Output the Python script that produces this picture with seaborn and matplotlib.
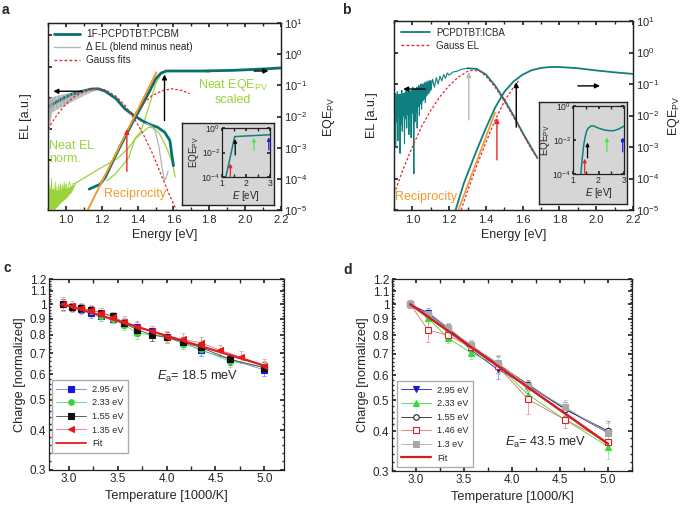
import numpy as np
import matplotlib
matplotlib.use("Agg")
import matplotlib.pyplot as plt
import seaborn as sns
from matplotlib.lines import Line2D
from matplotlib.ticker import (NullFormatter, NullLocator, LogLocator,
                               MultipleLocator, FixedLocator, FixedFormatter)

# ---------------- panel a (log10 values) ----------------
a_el_e = [0.90, 0.93, 0.98, 1.03, 1.09, 1.14, 1.18, 1.22, 1.28, 1.33, 1.38,
          1.43, 1.47, 1.51, 1.55, 1.58, 1.59, 1.60]
a_el_log = [-1.70, -1.59, -1.43, -1.29, -1.19, -1.12, -1.11, -1.19, -1.43, -1.76,
            -1.97, -2.15, -2.26, -2.34, -2.50, -2.77, -3.20, -3.58]
a_eqe_e = [1.13, 1.16, 1.19, 1.22, 1.25, 1.28, 1.33, 1.38, 1.43, 1.47, 1.50,
           1.53, 1.56, 1.65, 1.75, 1.93, 2.12, 2.20]
a_eqe_log = [-4.33, -4.25, -4.18, -3.95, -3.58, -3.22, -2.65, -2.10, -1.58,
             -1.15, -0.80, -0.61, -0.54, -0.54, -0.54, -0.52, -0.47, -0.44]
a_del_e = [0.90, 0.92, 0.95, 1.00, 1.05, 1.10, 1.15, 1.18]
a_del_hi = [-1.45, -1.38, -1.33, -1.27, -1.20, -1.15, -1.12, -1.11]
a_del_lo = [-2.50, -1.85, -1.75, -1.60, -1.45, -1.30, -1.17, -1.11]
a_del_zz_e = [0.900, 0.905, 0.910, 0.915, 0.920, 0.925, 0.930, 0.940, 0.950,
              0.960, 0.970, 0.980, 0.990, 1.000, 1.010, 1.020, 1.030, 1.040,
              1.050, 1.060, 1.070, 1.080, 1.090, 1.100, 1.110, 1.120, 1.130,
              1.140, 1.150, 1.170]
a_del_zz_log = [-2.50, -1.45, -2.10, -1.40, -1.85, -1.38, -1.80, -1.36, -1.75,
                -1.33, -1.68, -1.30, -1.62, -1.27, -1.55, -1.25, -1.48, -1.22,
                -1.42, -1.20, -1.36, -1.18, -1.30, -1.16, -1.24, -1.14, -1.19,
                -1.13, -1.15, -1.11]
a_del_tail_e = [1.45, 1.48, 1.50, 1.52, 1.535, 1.55, 1.56, 1.57]
a_del_tail_log = [-2.22, -2.32, -2.50, -3.00, -3.60, -4.05, -3.95, -3.75]
a_gauss1_e = [0.90, 0.95, 1.00, 1.05, 1.10, 1.15, 1.18, 1.22, 1.28, 1.33, 1.38,
              1.43, 1.48, 1.53, 1.58, 1.62]
a_gauss1_log = [-2.40, -1.95, -1.60, -1.35, -1.20, -1.12, -1.11, -1.15, -1.35,
                -1.65, -2.05, -2.55, -3.15, -3.85, -4.55, -5.05]
a_gauss2_e = [1.37, 1.43, 1.48, 1.54, 1.59, 1.65, 1.69]
a_gauss2_log = [-2.02, -1.59, -1.33, -1.17, -1.11, -1.17, -1.27]
a_recip_e = [1.12, 1.505]
a_recip_log = [-5.02, -0.58]
a_neatel_e = [1.05, 1.13, 1.21, 1.29, 1.35, 1.39, 1.43, 1.46, 1.49, 1.52, 1.55,
              1.59, 1.61]
a_neatel_log = [-4.15, -3.87, -3.60, -3.34, -3.00, -2.70, -2.50, -2.35, -2.36,
                -2.54, -2.85, -3.40, -3.94]
a_neatel_noise_e = [0.90, 0.93, 0.96, 1.00, 1.03, 1.05]
a_neatel_noise_hi = [-4.30, -4.35, -4.40, -4.30, -4.25, -4.15]
a_neatel_noise_lo = [-5.00, -5.00, -4.80, -4.60, -4.40, -4.15]
a_neatel_zz_e = [0.900, 0.905, 0.910, 0.915, 0.920, 0.925, 0.930, 0.935, 0.940,
                 0.945, 0.950, 0.955, 0.960, 0.965, 0.970, 0.975, 0.980, 0.985,
                 0.990, 0.995, 1.000, 1.010, 1.020, 1.030, 1.040, 1.050]
a_neatel_zz_log = [-4.10, -5.00, -4.20, -4.90, -4.00, -5.00, -4.30, -4.80,
                   -4.10, -4.70, -4.25, -4.90, -4.20, -4.60, -4.15, -4.70,
                   -4.20, -4.50, -4.10, -4.45, -4.15, -4.40, -4.10, -4.30,
                   -4.15, -4.15]
a_neateqe_e = [1.229, 1.276, 1.323, 1.351, 1.369, 1.388, 1.416, 1.444, 1.473,
               1.50, 1.529, 1.557, 1.651, 1.744, 1.80]
a_neateqe_log = [-4.06, -3.84, -3.52, -3.31, -2.99, -2.69, -2.50, -2.02, -1.49,
                 -0.95, -0.65, -0.55, -0.54, -0.55, -0.58]
a_inset_e = [1.16, 1.53, 3.0]
a_inset_log = [-4.0, -0.7, -0.55]

# ---------------- panel b ----------------
b_noise_e = [0.900, 0.903, 0.906, 0.909, 0.912, 0.915, 0.918, 0.921, 0.924,
             0.927, 0.930, 0.933, 0.936, 0.939, 0.942, 0.945, 0.948, 0.951,
             0.954, 0.957, 0.960, 0.963, 0.966, 0.969, 0.972, 0.975, 0.978,
             0.981, 0.984, 0.987, 0.990, 0.993, 0.996, 0.999, 1.002, 1.005,
             1.008, 1.011, 1.014, 1.017, 1.020, 1.023, 1.026, 1.029, 1.032,
             1.035, 1.038, 1.041, 1.044, 1.047, 1.050, 1.055, 1.060, 1.065,
             1.070, 1.075, 1.080, 1.085, 1.090, 1.095, 1.100, 1.110, 1.120,
             1.130, 1.140, 1.150, 1.160, 1.170, 1.180, 1.190, 1.200, 1.220,
             1.240, 1.260, 1.280, 1.300]
b_noise_log = [-1.50, -2.60, -1.30, -3.00, -1.60, -2.20, -1.25, -2.80, -1.40,
               -2.00, -1.35, -3.20, -1.50, -2.30, -1.20, -2.50, -1.60, -1.90,
               -1.30, -2.90, -1.40, -2.10, -1.20, -2.40, -1.50, -1.80, -1.15,
               -2.60, -1.30, -2.00, -1.25, -2.70, -1.40, -1.90, -1.10, -2.30,
               -3.85, -1.30, -2.20, -1.15, -1.90, -1.10, -2.40, -1.20, -1.70,
               -1.05, -2.00, -1.10, -1.60, -1.00, -1.80, -1.00, -1.50, -0.95,
               -1.60, -0.92, -1.35, -0.90, -1.30, -0.88, -1.20, -0.85, -1.10,
               -0.80, -1.00, -0.75, -0.90, -0.70, -0.82, -0.65, -0.72, -0.62,
               -0.60, -0.55, -0.52, -0.50]
b_band_e = [0.90, 0.95, 1.00, 1.05, 1.10]
b_band_hi = [-1.35, -1.28, -1.18, -1.02, -0.88]
b_band_lo = [-2.10, -2.00, -1.90, -1.55, -1.15]
b_el_e = [1.30, 1.35, 1.40, 1.45, 1.50, 1.55, 1.60, 1.65, 1.68]
b_el_log = [-0.50, -0.52, -0.70, -1.05, -1.50, -2.00, -2.55, -3.05, -3.35]
b_eqe_e = [1.235, 1.28, 1.35, 1.40, 1.45, 1.50, 1.55, 1.60, 1.65, 1.70, 1.75,
           1.80, 1.90, 2.00, 2.10, 2.20]
b_eqe_log = [-5.00, -4.15, -3.10, -2.40, -1.75, -1.25, -0.92, -0.70, -0.56,
             -0.49, -0.46, -0.46, -0.50, -0.57, -0.63, -0.68]
b_gauss_e = [0.88, 0.90, 0.95, 1.00, 1.05, 1.10, 1.15, 1.20, 1.25, 1.30, 1.33,
             1.37, 1.40, 1.45, 1.50, 1.55, 1.60, 1.65, 1.68]
b_gauss_log = [-4.75, -4.50, -3.70, -3.00, -2.35, -1.84, -1.40, -1.05, -0.78,
               -0.60, -0.56, -0.60, -0.75, -1.10, -1.55, -2.05, -2.58, -3.10, -3.35]
b_gauss2_e = [1.265, 1.30, 1.35, 1.40, 1.45, 1.50, 1.55, 1.585]
b_gauss2_log = [-5.00, -4.40, -3.60, -2.85, -2.15, -1.55, -1.10, -0.85]
b_recip_e = [1.25, 1.45]
b_recip_log = [-5.0, -1.9]
b_inset_e = [1.31, 1.36, 1.42, 1.48, 1.54, 1.60, 1.70, 1.80, 2.00, 2.20, 2.40,
             2.60, 2.80, 3.00]
b_inset_log = [-4.0, -3.1, -2.3, -1.8, -1.45, -1.3, -1.18, -1.17, -1.3, -1.4,
               -1.45, -1.45, -1.35, -1.18]

# arrows: (energy, log10 start, log10 end, colour)
a_arrows = [(1.55, -2.13, -0.65, 'black'), (1.34, -3.76, -2.40, '#e8262b')]
b_arrows = [(1.307, -2.14, -0.62, '#b8b8b8'), (1.46, -3.41, -2.08, '#e8262b'),
            (1.565, -2.37, -0.94, 'black')]
a_inset_arrows = [(1.35, -4.0, -2.9, '#e8262b'), (1.55, -2.2, -0.9, 'black'),
                  (2.33, -1.8, -0.8, '#4de24d'), (2.95, -1.8, -0.75, '#2020e0')]
b_inset_arrows = [(1.46, -4.0, -3.1, '#e8262b'), (1.57, -3.05, -2.15, 'black'),
                  (2.33, -2.7, -1.85, '#4de24d'), (2.95, -2.7, -1.85, '#2020e0')]

# ---------------- panel c ----------------
temp_c = [2.94, 3.03, 3.125, 3.23, 3.33, 3.45, 3.57, 3.70, 3.85, 4.0, 4.17, 4.35,
          4.65, 5.0]
c_295 = [1.0, 0.98, 0.965, 0.94, 0.92, 0.90, 0.875, 0.845, 0.82, 0.79, 0.76,
         0.715, 0.67, 0.62]
c_233 = [1.0, 0.98, 0.97, 0.95, 0.92, 0.90, 0.86, 0.81, 0.80, 0.79, 0.75, 0.72,
         0.66, 0.635]
c_155 = [1.0, 0.98, 0.97, 0.955, 0.94, 0.915, 0.87, 0.83, 0.80, 0.785, 0.76,
         0.73, 0.67, 0.63]
c_err = [0.04, 0.03, 0.03, 0.035, 0.035, 0.03, 0.03, 0.035, 0.035, 0.03, 0.03,
         0.03, 0.025, 0.025]
temp_c_red = [2.94, 3.03, 3.125, 3.23, 3.33, 3.45, 3.57, 3.70, 3.85, 4.0, 4.17,
              4.35, 4.55, 4.76, 5.0]
c_135 = [1.0, 0.985, 0.97, 0.955, 0.94, 0.91, 0.88, 0.85, 0.82, 0.79, 0.775,
         0.755, 0.715, 0.68, 0.64]
c_135_err = [0.05, 0.04, 0.04, 0.04, 0.035, 0.035, 0.035, 0.035, 0.035, 0.035,
             0.035, 0.035, 0.03, 0.03, 0.03]
fit_c_t = [2.94, 5.0]
fit_c = [1.0, 0.64]

# ---------------- panel d ----------------
temp_d = [2.94, 3.125, 3.33, 3.57, 3.85, 4.17, 4.55, 5.0]
d_295 = [1.0, 0.94, 0.845, 0.72, 0.625, 0.555, 0.47, 0.395]
d_233 = [1.0, 0.905, 0.785, 0.705, 0.645, 0.52, 0.435, 0.358]
d_155 = [1.0, 0.93, 0.84, 0.74, 0.65, 0.56, 0.47, 0.40]
d_146 = [1.0, 0.83, 0.80, 0.735, 0.64, 0.503, 0.435, 0.37]
d_13 = [1.0, 0.93, 0.845, 0.745, 0.655, 0.555, 0.475, 0.395]
d_err = [0.03, 0.03, 0.03, 0.03, 0.04, 0.02, 0.025, 0.03]
d_146_err = [0.03, 0.07, 0.03, 0.03, 0.03, 0.05, 0.025, 0.02]
fit_d_t = [2.94, 5.0]
fit_d = [1.0, 0.365]

TEAL_A = '#0b6f6f'
TEAL_B = '#0f7f7f'
RED = '#e8262b'
GREEN = '#9ad33a'
ORANGE = '#f39a2c'
GREY_BOX = '#d6d6d6'
DASH = (0, (2, 1.6))

sns.set_theme(style="ticks")
plt.rcParams['font.family'] = ['Liberation Sans', 'DejaVu Sans']
plt.rcParams['mathtext.fontset'] = 'custom'
plt.rcParams['mathtext.rm'] = 'Liberation Sans'
plt.rcParams['mathtext.it'] = 'Liberation Sans:italic'
plt.rcParams['mathtext.bf'] = 'Liberation Sans:bold'
plt.rcParams['axes.linewidth'] = 0.9
plt.rcParams['axes.edgecolor'] = '#222222'
plt.rcParams['xtick.direction'] = 'in'
plt.rcParams['ytick.direction'] = 'in'
plt.rcParams['xtick.major.size'] = 3
plt.rcParams['ytick.major.size'] = 3
plt.rcParams['xtick.minor.size'] = 2
plt.rcParams['ytick.minor.size'] = 1.5

W, H = 685, 512
fig = plt.figure(figsize=(W / 100, H / 100), dpi=100)


def box(l, t, r, b):
    return [l / W, 1 - b / H, (r - l) / W, (b - t) / H]


def line(ax, x, logy, **kw):
    sns.lineplot(x=x, y=10 ** np.asarray(logy), ax=ax, sort=False,
                 estimator=None, **kw)


def band(ax, x, lo, hi, color, alpha=1.0):
    ax.fill_between(x, 10 ** np.asarray(lo), 10 ** np.asarray(hi), color=color,
                    lw=0.6, edgecolor=color, alpha=alpha)


def arrow(ax, x, y0, y1, color, lw=1.0, ms=7):
    ax.annotate('', xy=(x, 10 ** y1), xytext=(x, 10 ** y0),
                arrowprops=dict(arrowstyle='-|>', color=color, lw=lw,
                                mutation_scale=ms, shrinkA=0, shrinkB=0))


def harrow(ax, x0, x1, y, color='black'):
    ax.annotate('', xy=(x1, 10 ** y), xytext=(x0, 10 ** y),
                arrowprops=dict(arrowstyle='-|>', color=color, lw=1.0,
                                mutation_scale=7, shrinkA=0, shrinkB=0))


def spectrum_axes(rect, left_offset, rpad):
    ax = fig.add_axes(box(*rect))
    ax.set_yscale('log')
    ax.set_ylim(10 ** (-6 + left_offset), 10 ** left_offset)
    ax.yaxis.set_major_locator(LogLocator(base=10, numticks=12))
    ax.yaxis.set_major_formatter(NullFormatter())
    ax.yaxis.set_minor_locator(NullLocator())
    ax.set_xlim(0.9, 2.2)
    ax.xaxis.set_major_locator(MultipleLocator(0.2))
    ax.xaxis.set_minor_locator(MultipleLocator(0.1))
    ax.xaxis.set_major_formatter(plt.FuncFormatter(lambda v, p: f'{v:.1f}'))
    ax.tick_params(labelsize=8, top=True, which='both')
    ax.set_xlabel('Energy [eV]', fontsize=9, labelpad=3)
    ax.set_ylabel('EL [a.u.]', fontsize=9, labelpad=8)
    ax2 = ax.twinx()
    ax2.set_yscale('log')
    ax2.set_ylim(1e-5, 1e1)
    ax2.yaxis.set_major_locator(LogLocator(base=10, numticks=12))
    ax2.yaxis.set_minor_locator(NullLocator())
    ax2.tick_params(labelsize=8, pad=2)
    ax2.set_ylabel('EQE$_{\\mathrm{PV}}$', fontsize=9, labelpad=rpad)
    ax2.set_xlim(0.9, 2.2)
    return ax, ax2


def inset(outer, inner, e, logy, arrows, color):
    bg = fig.add_axes(box(*outer))
    bg.set_facecolor(GREY_BOX)
    bg.set_xticks([])
    bg.set_yticks([])
    for s in bg.spines.values():
        s.set_linewidth(1.0)
    ax = fig.add_axes(box(*inner))
    ax.set_facecolor(GREY_BOX)
    ax.set_yscale('log')
    ax.set_ylim(1e-4, 1e0)
    ax.set_xlim(1, 3)
    ax.yaxis.set_major_locator(FixedLocator([1e-4, 1e-2, 1e0]))
    ax.yaxis.set_minor_locator(NullLocator())
    ax.xaxis.set_major_locator(FixedLocator([1, 2, 3]))
    ax.xaxis.set_minor_locator(MultipleLocator(0.5))
    ax.tick_params(labelsize=6.2, pad=1.5, length=2, which='both', top=True,
                   right=True)
    ax.set_xlabel('$E$ [eV]', fontsize=7, labelpad=1)
    ax.set_ylabel('EQE$_{\\mathrm{PV}}$', fontsize=7, labelpad=0.5)
    line(ax, e, logy, color=color, lw=1.1)
    for x, y0, y1, c in arrows:
        arrow(ax, x, y0, y1, c, lw=0.9, ms=5)
    return ax


# ================= panel a =================
ax_a, ax_a2 = spectrum_axes((48, 23, 281, 210), 0.4, 10)
band(ax_a2, a_neatel_noise_e, a_neatel_noise_lo, a_neatel_noise_hi, GREEN)
line(ax_a2, a_neatel_zz_e, a_neatel_zz_log, color=GREEN, lw=0.6)
line(ax_a2, a_neatel_e, a_neatel_log, color=GREEN, lw=0.9)
line(ax_a2, a_neateqe_e, a_neateqe_log, color=GREEN, lw=0.9)
line(ax_a2, a_el_e, a_el_log, color=TEAL_A, lw=2.0)
line(ax_a2, a_eqe_e, a_eqe_log, color=TEAL_A, lw=2.0)
band(ax_a2, a_del_e, a_del_lo, a_del_hi, '#c4c4c4')
line(ax_a2, a_del_zz_e, a_del_zz_log, color='#a8a8a8', lw=0.5)
line(ax_a2, a_del_tail_e, a_del_tail_log, color='#b4b4b4', lw=0.9)
line(ax_a2, a_gauss1_e, a_gauss1_log, color=RED, lw=0.9, linestyle=DASH)
line(ax_a2, a_gauss2_e, a_gauss2_log, color=RED, lw=0.9, linestyle=DASH)
line(ax_a2, a_recip_e, a_recip_log, color=ORANGE, lw=1.4)
for x, y0, y1, c in a_arrows:
    arrow(ax_a2, x, y0, y1, c, lw=1.0)
harrow(ax_a2, 1.09, 0.93, -1.19)
harrow(ax_a2, 2.05, 2.13, -0.54)
ax_a2.text(0.905, 10 ** -3.55, 'Neat EL\nnorm.', color=GREEN, fontsize=9,
           linespacing=1.1, va='bottom')
ax_a2.text(1.93, 10 ** -1.2, 'Neat EQE$_{\\mathrm{PV}}$\nscaled', color=GREEN,
           fontsize=9, ha='center', va='center', linespacing=1.1)
ax_a2.text(1.385, 10 ** -4.48, 'Reciprocity', color=ORANGE, fontsize=9,
           ha='center', va='center')
leg_a = [Line2D([], [], color=TEAL_A, lw=2.0),
         Line2D([], [], color='#b4b4b4', lw=1.0),
         Line2D([], [], color=RED, lw=1.0, ls=DASH)]
ax_a2.legend(leg_a, ['1F-PCPDTBT:PCBM', '\u0394 EL (blend minus neat)',
                     'Gauss fits'], loc='upper left', frameon=False,
             fontsize=7.2, handlelength=2.6, borderaxespad=0.2,
             labelspacing=0.3, handletextpad=0.6)
inset((182, 123, 274, 205), (222, 128, 270, 177), a_inset_e, a_inset_log,
      a_inset_arrows, TEAL_B)

# ================= panel b =================
ax_b, ax_b2 = spectrum_axes((394, 21, 633, 210), 0.0, 5)
band(ax_b2, b_band_e, b_band_lo, b_band_hi, TEAL_B)
line(ax_b2, b_noise_e, b_noise_log, color=TEAL_B, lw=0.8)
line(ax_b2, b_el_e, b_el_log, color=TEAL_B, lw=1.3)
line(ax_b2, b_eqe_e, b_eqe_log, color=TEAL_B, lw=1.3)
line(ax_b2, b_recip_e, b_recip_log, color=ORANGE, lw=1.2)
line(ax_b2, b_gauss_e, b_gauss_log, color=RED, lw=0.9, linestyle=DASH)
line(ax_b2, b_gauss2_e, b_gauss2_log, color=RED, lw=0.9, linestyle=DASH)
for x, y0, y1, c in b_arrows:
    arrow(ax_b2, x, y0, y1, c, lw=1.0)
harrow(ax_b2, 1.07, 0.95, -1.16)
harrow(ax_b2, 1.90, 2.02, -1.06)
ax_b2.text(0.905, 10 ** -4.6, 'Reciprocity', color=ORANGE, fontsize=9,
           va='center')
leg_b = [Line2D([], [], color=TEAL_B, lw=1.3),
         Line2D([], [], color=RED, lw=1.0, ls=DASH)]
ax_b2.legend(leg_b, ['PCPDTBT:ICBA', 'Gauss EL'], loc='upper left',
             frameon=False, fontsize=7.0, handlelength=3.0, borderaxespad=0.3,
             labelspacing=0.3, handletextpad=0.6)
inset((539, 102, 627, 204), (573, 106, 624, 174), b_inset_e, b_inset_log,
      b_inset_arrows, TEAL_B)


# ================= panels c, d =================
def charge_axes(rect, xlim):
    ax = fig.add_axes(box(*rect))
    ax.set_yscale('log')
    ax.set_ylim(0.3, 1.2)
    ticks = [0.3, 0.4, 0.5, 0.6, 0.7, 0.8, 0.9, 1.0, 1.1, 1.2]
    ax.yaxis.set_major_locator(FixedLocator(ticks))
    ax.yaxis.set_major_formatter(FixedFormatter(
        ['0.3', '0.4', '0.5', '0.6', '0.7', '0.8', '0.9', '1', '1.1', '1.2']))
    ax.yaxis.set_minor_locator(MultipleLocator(0.02))
    ax.yaxis.set_minor_formatter(NullFormatter())
    ax.set_xlim(*xlim)
    ax.xaxis.set_major_locator(MultipleLocator(0.5))
    ax.xaxis.set_minor_locator(MultipleLocator(0.25))
    ax.xaxis.set_major_formatter(plt.FuncFormatter(lambda v, p: f'{v:.1f}'))
    ax.tick_params(labelsize=8.5, top=True, right=True, which='both', pad=2)
    ax.tick_params(axis='x', which='minor', length=3)
    ax.set_xlabel('Temperature [1000/K]', fontsize=9.2, labelpad=4)
    ax.set_ylabel('Charge [normalized]', fontsize=9.2, labelpad=3)
    return ax


def series(ax, t, v, err, color, ecolor, marker, mfc, ms=4.5, lcolor=None):
    ax.errorbar(t, v, yerr=err, fmt='none', ecolor=ecolor, elinewidth=0.7,
                capsize=1.5, capthick=0.7, zorder=2)
    sns.lineplot(x=t, y=v, ax=ax, color=lcolor or color, lw=0.6, marker=marker,
                 markersize=ms, markerfacecolor=mfc, markeredgecolor=color,
                 markeredgewidth=0.8, sort=False, estimator=None, zorder=3)
    return Line2D([], [], color=lcolor or color, lw=0.6, marker=marker,
                  markersize=ms - 0.5, markerfacecolor=mfc,
                  markeredgecolor=color, markeredgewidth=0.8)


ax_c = charge_axes((49, 279, 284, 470), (2.8, 5.2))
h = []
h.append(series(ax_c, temp_c, c_295, c_err, '#1515d8', '#9b9bef', 's',
                '#1515d8', lcolor='#6f7fe8'))
h.append(series(ax_c, temp_c, c_233, c_err, '#3ecf3e', '#9fe09f', 'o',
                '#3ecf3e', lcolor='#5fd35f'))
h.append(series(ax_c, temp_c, c_155, c_err, '#111111', '#777777', 's',
                '#111111', lcolor='#444444'))
h.append(series(ax_c, temp_c_red, c_135, c_135_err, '#e41818', '#f2a6b8', '<',
                '#e41818', lcolor='#ef7070'))
sns.lineplot(x=fit_c_t, y=fit_c, ax=ax_c, color='#e21d1d', lw=1.6,
             estimator=None, zorder=4)
h.append(Line2D([], [], color='#e21d1d', lw=1.3))
ax_c.legend(h, ['2.95 eV', '2.33 eV', '1.55 eV', '1.35 eV', 'Fit'],
            loc='lower left', bbox_to_anchor=(0.012, 0.09), fontsize=6.6,
            frameon=True, fancybox=False, edgecolor='#999999',
            handlelength=3.2, labelspacing=0.5, borderpad=0.5,
            handletextpad=0.7, borderaxespad=0)
ax_c.text(0.46, 0.49, '$E_{\\mathrm{a}}$= 18.5 meV', transform=ax_c.transAxes,
          fontsize=9.2, va='center')

ax_d = charge_axes((392, 279, 632, 471), (2.75, 5.25))
h = []
h.append(series(ax_d, temp_d, d_295, d_err, '#1a1acc', '#a0a0ee', 'v',
                '#1a1acc'))
h.append(series(ax_d, temp_d, d_233, d_err, '#33dd33', '#a6e8a6', '^',
                '#33dd33'))
h.append(series(ax_d, temp_d, d_155, d_err, '#222222', '#999999', 'o',
                'white'))
h.append(series(ax_d, temp_d, d_146, d_146_err, '#e02020', '#f0a0a0', 's',
                'white', lcolor='#ee6a6a'))
h.append(series(ax_d, temp_d, d_13, d_err, '#a8a8a8', '#cccccc', 's',
                '#a8a8a8'))
sns.lineplot(x=fit_d_t, y=fit_d, ax=ax_d, color='#d41e1e', lw=1.8,
             estimator=None, zorder=4)
h.append(Line2D([], [], color='#d41e1e', lw=1.6))
ax_d.legend(h, ['2.95 eV', '2.33 eV', '1.55 eV', '1.46 eV', '1.3 eV', 'Fit'],
            loc='lower left', bbox_to_anchor=(0.02, 0.02), fontsize=6.6,
            frameon=True, fancybox=False, edgecolor='#999999',
            handlelength=3.2, labelspacing=0.5, borderpad=0.5,
            handletextpad=0.7, borderaxespad=0)
ax_d.text(0.47, 0.15, '$E_{\\mathrm{a}}$= 43.5 meV', transform=ax_d.transAxes,
          fontsize=9.2, va='center')

for lab, x, y in [('a', 2, 10), ('b', 342, 10), ('c', 3, 268), ('d', 343, 270)]:
    fig.text(x / W, 1 - y / H, lab, fontsize=10, fontweight='bold',
             va='center', ha='left')

fig.savefig('out.png', dpi=100)
